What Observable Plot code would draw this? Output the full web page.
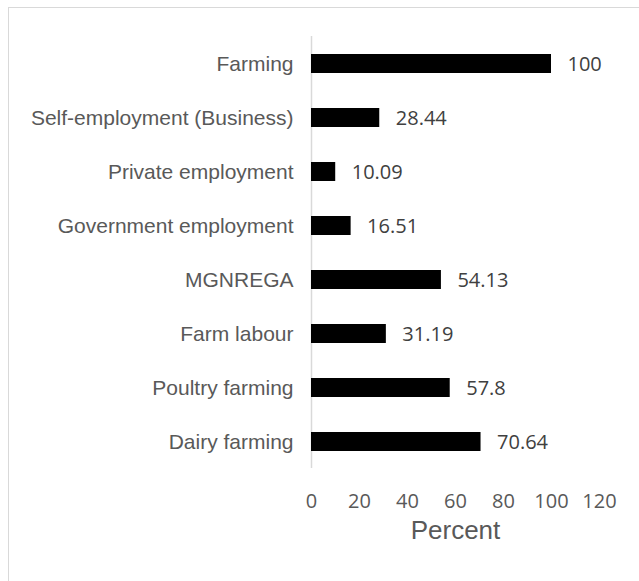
<!DOCTYPE html>
<html>
<head>
<meta charset="utf-8">
<script src="https://cdn.jsdelivr.net/npm/d3@7"></script>
<script src="https://cdn.jsdelivr.net/npm/@observablehq/plot@0.6"></script>
<style>
  html, body { margin: 0; padding: 0; background: #fff; }
  #frame { position: absolute; left: 8px; top: 7px; width: 631px; height: 574px; box-sizing: border-box;
           border-top: 1.5px solid #d9d9d9; border-left: 1.5px solid #d9d9d9; }
  #chart { position: absolute; left: 0; top: 0; }
</style>
</head>
<body>
<div id="frame"></div>
<div id="chart"></div>
<script>
const categories = ["Farming", "Self-employment (Business)", "Private employment", "Government employment", "MGNREGA", "Farm labour", "Poultry farming", "Dairy farming"];
const values = [100, 28.44, 10.09, 16.51, 54.13, 31.19, 57.8, 70.64];
const valueLabels = ["100", "28.44", "10.09", "16.51", "54.13", "31.19", "57.8", "70.64"];
const xTicks = [0, 20, 40, 60, 80, 100, 120];
const axisTitle = "Percent";

const data = categories.map((c, i) => ({cat: c, value: values[i], label: valueLabels[i]}));

const chart = Plot.plot({
  width: 639,
  height: 581,
  marginTop: 36,
  marginBottom: 113,
  marginLeft: 311,
  marginRight: 40,
  style: {background: "transparent", overflow: "visible"},
  x: {domain: [0, 120]},
  y: {domain: categories, paddingInner: 0.65, paddingOuter: 0.325},
  marks: [
    Plot.ruleX([0], {stroke: "#d9d9d9", strokeWidth: 1.5}),
    Plot.barX(data, {x: "value", y: "cat", fill: "#000"}),
    Plot.text(data, {x: "value", y: "cat", text: "label", dx: 16, dy: 1, textAnchor: "start",
      fontSize: 20, fontFamily: "Open Sans", fill: "#404040"}),
    Plot.axisY({tickSize: 0, tickPadding: 18, fontSize: 21, fontFamily: "Liberation Sans", color: "#595959", label: null}),
    Plot.axisX({ticks: xTicks, tickSize: 0, tickPadding: 25, fontSize: 20, fontFamily: "Open Sans", color: "#595959", label: null, tickFormat: d => String(d)}),
    Plot.text([axisTitle], {frameAnchor: "bottom", dy: 70, fontSize: 26, fontFamily: "Liberation Sans", fill: "#595959"})
  ]
});
document.getElementById("chart").appendChild(chart);
</script>
</body>
</html>
